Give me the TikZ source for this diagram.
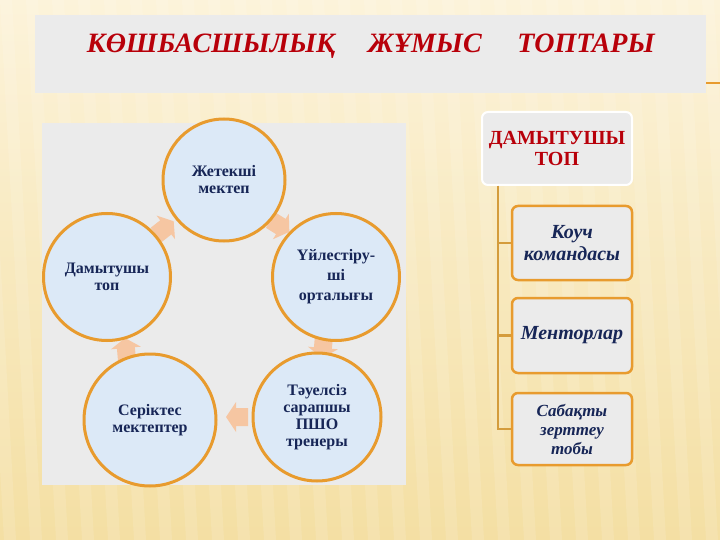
\documentclass[tikz,border=0pt]{standalone}
\usepackage{fontspec}
\setmainfont{Liberation Serif}
\usetikzlibrary{calc}
\definecolor{bgtop}{HTML}{FCF3DA}
\definecolor{bgbot}{HTML}{F4DFA3}
\definecolor{panelgray}{HTML}{EBEBEB}
\definecolor{circfill}{HTML}{DCE9F7}
\definecolor{orng}{HTML}{E89B2E}
\definecolor{darkred}{HTML}{B8000A}
\definecolor{navy}{HTML}{172657}
\definecolor{peach}{HTML}{F6C6A2}
\definecolor{trunkc}{HTML}{D49C3C}
\tikzset{
  pics/cycarrow/.style={code={\fill[peach] (-11,-9) -- (1,-9) -- (1,-15) -- (11,0) -- (1,15) -- (1,9) -- (-11,9) -- cycle;}},
  circ/.style={circle,fill=circfill,draw=orng,line width=3pt,inner sep=0pt,align=center,text=navy,font=\bfseries\fontsize{16}{17}\selectfont},
  rootbox/.style={rectangle,rounded corners=6pt,fill=panelgray,draw=white,line width=2pt,minimum width=150pt,minimum height=73pt,align=center,text=darkred,font=\bfseries\fontsize{20}{21}\selectfont},
  childbox/.style={rectangle,rounded corners=6pt,fill=panelgray,draw=orng,line width=2.5pt,minimum width=120pt,minimum height=74pt,align=center,text=navy,font=\bfseries\itshape\fontsize{20}{22}\selectfont},
  titleword/.style={anchor=base,text=darkred,font=\bfseries\itshape\fontsize{28}{30}\selectfont,inner sep=0pt},
  trunk/.style={draw=trunkc,line width=2.5pt}
}
\begin{document}
\begin{tikzpicture}[x=1pt,y=1pt]
\useasboundingbox (0,0) rectangle (720,-540);
\shade[top color=bgtop,bottom color=bgbot] (0,0) rectangle (720,-540);
\foreach \i in {-2,...,30} {
  \fill[white,opacity=0.12] ({\i*26},0) -- ({\i*26+12},0) -- ({\i*26+12+30},-540) -- ({\i*26+30},-540) -- cycle;
}
% title band
\node[fill=panelgray,minimum width=671pt,minimum height=78pt,inner sep=0pt,anchor=north west] (band) at (35,-15) {};
\coordinate (stub) at (720,-83);
\draw[orng,line width=1.5pt] (band.east |- stub) -- (stub);
\node[titleword] (t1) at (211,-53) {КӨШБАСШЫЛЫҚ};
\node[titleword] (t2) at (425,-53) {ЖҰМЫС};
\node[titleword] (t3) at (586,-53) {ТОПТАРЫ};
% left panel
\node[fill=panelgray,minimum width=364pt,minimum height=362pt,inner sep=0pt,anchor=north west] (panel) at (42,-123) {};
% cycle arrows
\pic[rotate=38] at (165,-228) {cycarrow};
\pic[rotate=-32] at (280,-226) {cycarrow};
\pic[rotate=-95] at (323,-347) {cycarrow};
\pic[rotate=180] at (237,-417) {cycarrow};
\pic[rotate=95] at (126,-349) {cycarrow};
% circles
\node[circ,minimum size=122pt] (c1) at (224,-180) {Жетекші\\мектеп};
\node[circ,minimum size=127pt,font=\bfseries\fontsize{16}{20}\selectfont] (c2) at (336,-277) {Үйлестіру-\\ші\\орталығы};
\node[circ,minimum size=128pt] (c3) at (317,-417) {Тәуелсіз\\сарапшы\\ПШО\\тренеры};
\node[circ,minimum size=132pt] (c4) at (150,-420) {Серіктес\\мектептер};
\node[circ,minimum size=127pt] (c5) at (107,-277) {Дамытушы\\топ};
% hierarchy
\node[rootbox] (root) at (557,-148.5) {ДАМЫТУШЫ\\ТОП};
\node[childbox] (k1) at (572,-243) {Коуч\\командасы};
\node[childbox,minimum height=75pt] (k2) at (572,-335.5) {Менторлар};
\node[childbox,minimum height=72pt,font=\bfseries\itshape\fontsize{17}{19}\selectfont] (k3) at (572,-429) {Сабақты\\зерттеу\\тобы};
\coordinate (tr) at (498,-186);
\draw[trunk] (tr) |- (k1.west);
\draw[trunk] (tr) |- (k2.west);
\draw[trunk] (tr) |- (k3.west);
\end{tikzpicture}
\end{document}
